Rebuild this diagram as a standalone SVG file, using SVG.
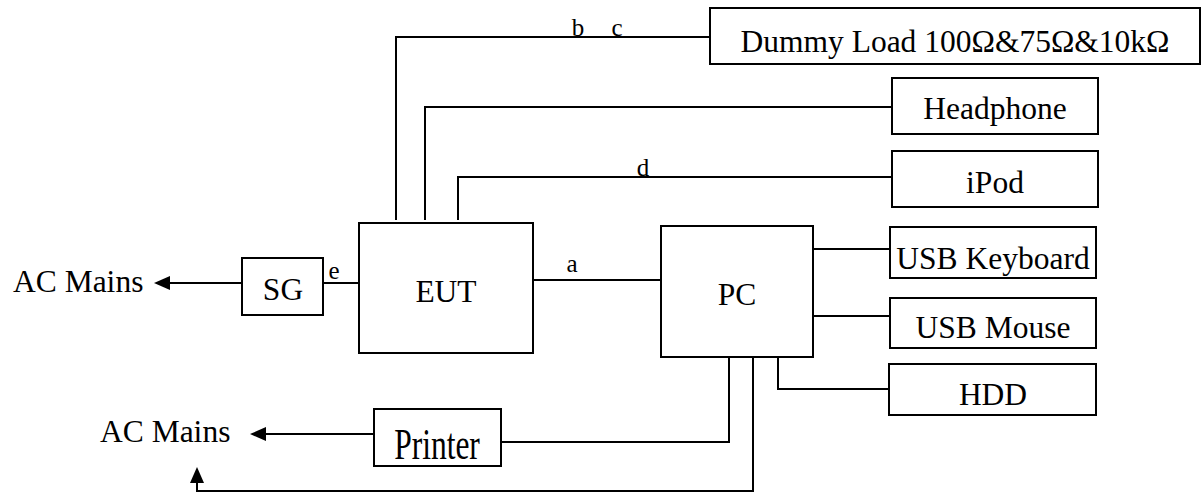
<svg xmlns="http://www.w3.org/2000/svg" width="1201" height="493" viewBox="0 0 1201 493">
<style>
  .box { fill: #fff; stroke: #000; stroke-width: 2; }
  .ln { fill: none; stroke: #000; stroke-width: 2; }
  .t { font-family: "Liberation Serif", "Times New Roman", serif; font-size: 31.5px; fill: #000; text-anchor: middle; }
  .tl { font-family: "Liberation Serif", "Times New Roman", serif; font-size: 31.5px; fill: #000; text-anchor: start; }
  .lbl { font-family: "Liberation Serif", "Times New Roman", serif; font-size: 25px; fill: #000; text-anchor: middle; }
  .ah { fill: #000; stroke: none; }
</style>
<rect width="1201" height="493" fill="#fff"/>
<g id="connectors">
  <polyline class="ln" points="396,220 396,37 710,37"/>
  <polyline class="ln" points="425,220 425,107 892,107"/>
  <polyline class="ln" points="458,220 458,177 892,177"/>
  <line class="ln" x1="533" y1="280" x2="661" y2="280"/>
  <line class="ln" x1="323" y1="283" x2="362" y2="283"/>
  <line class="ln" x1="242" y1="283" x2="168" y2="283"/>
  <polygon class="ah" points="154,283 170,276 170,290"/>
  <line class="ln" x1="813" y1="249" x2="890" y2="249"/>
  <line class="ln" x1="813" y1="316" x2="890" y2="316"/>
  <polyline class="ln" points="778,357 778,389 889,389"/>
  <polyline class="ln" points="729,357 729,442 501,442"/>
  <line class="ln" x1="374" y1="434" x2="263" y2="434"/>
  <polygon class="ah" points="250,434 266,427 266,441"/>
  <polyline class="ln" points="753,357 753,491 197,491 197,481"/>
  <polygon class="ah" points="197,467 190,483 204,483"/>
  <text class="lbl" x="578" y="36">b</text>
  <text class="lbl" x="617" y="36">c</text>
  <text class="lbl" x="643" y="176">d</text>
  <text class="lbl" x="572" y="272">a</text>
  <text class="lbl" x="334" y="279">e</text>
</g>
<g id="dummy-load">
  <rect class="box" x="710" y="8" width="490" height="56"/>
  <text class="t" x="955" y="52">Dummy Load 100Ω&amp;75Ω&amp;10kΩ</text>
</g>
<g id="headphone">
  <rect class="box" x="892" y="78" width="206" height="56"/>
  <text class="t" x="995" y="119">Headphone</text>
</g>
<g id="ipod">
  <rect class="box" x="892" y="151" width="206" height="56"/>
  <text class="t" x="995" y="193">iPod</text>
</g>
<g id="eut">
  <rect class="box" x="359" y="223" width="174" height="130"/>
  <text class="t" x="446" y="302">EUT</text>
</g>
<g id="pc">
  <rect class="box" x="661" y="226" width="152" height="131"/>
  <text class="t" x="737" y="305">PC</text>
</g>
<g id="usb-keyboard">
  <rect class="box" x="890" y="227" width="206" height="51"/>
  <text class="t" x="993" y="269">USB Keyboard</text>
</g>
<g id="usb-mouse">
  <rect class="box" x="890" y="298" width="206" height="50"/>
  <text class="t" x="993" y="338">USB Mouse</text>
</g>
<g id="hdd">
  <rect class="box" x="889" y="364" width="207" height="51"/>
  <text class="t" x="993" y="405">HDD</text>
</g>
<g id="sg">
  <rect class="box" x="242" y="258" width="81" height="57"/>
  <text class="t" x="283" y="300">SG</text>
</g>
<g id="ac-mains-1">
  <text class="tl" x="13" y="292">AC Mains</text>
</g>
<g id="printer">
  <rect class="box" x="374" y="409" width="127" height="57"/>
  <text class="t" x="437" y="0" transform="translate(0,459) scale(1,1.4)">Printer</text>
</g>
<g id="ac-mains-2">
  <text class="tl" x="100" y="442">AC Mains</text>
</g>
</svg>
